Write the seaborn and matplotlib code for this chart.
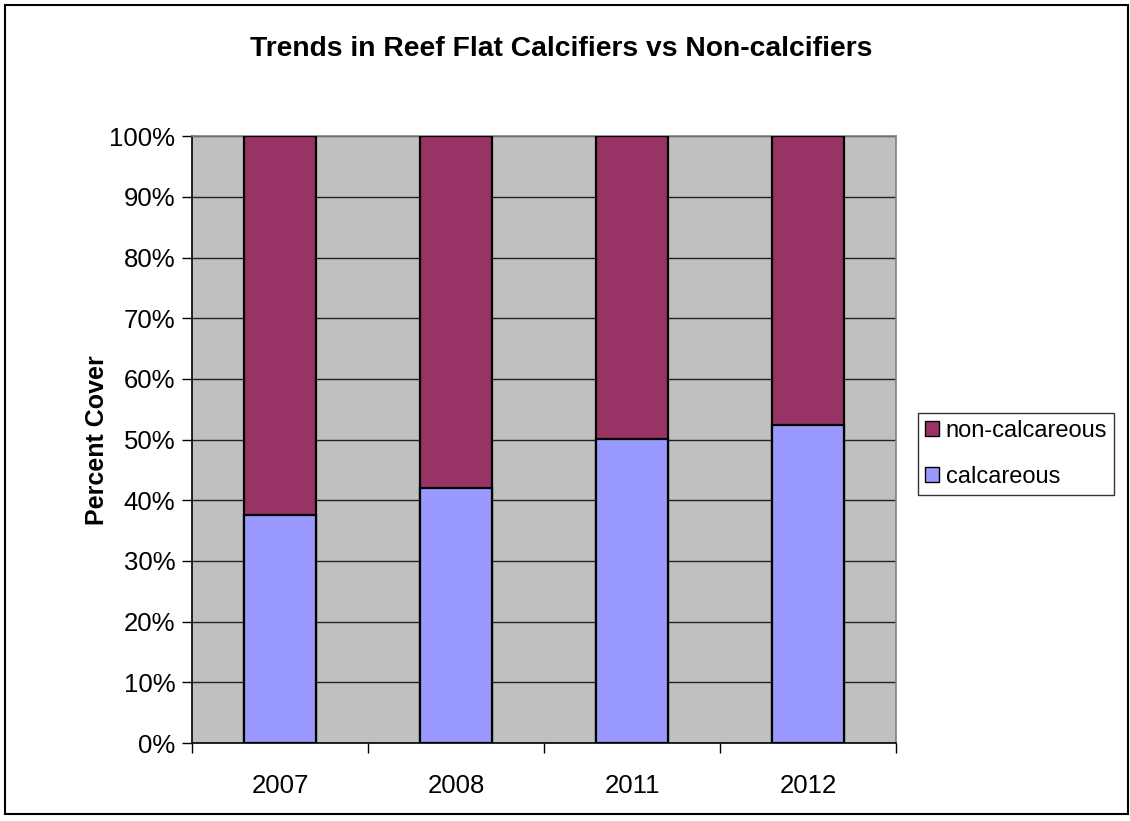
import matplotlib
matplotlib.use("Agg")
import matplotlib.pyplot as plt
from matplotlib.patches import Rectangle, Patch
from matplotlib.ticker import PercentFormatter, FixedLocator
import seaborn as sns
import pandas as pd

years = ["2007", "2008", "2011", "2012"]
calcareous = [37.5, 42.0, 50.1, 52.4]
non_calcareous = [100 - v for v in calcareous]

PURPLE = "#993366"
BLUE = "#9999FF"
GREY = "#C0C0C0"

sns.set_theme(style="white")
plt.rcParams["font.family"] = ["Liberation Sans", "DejaVu Sans"]
plt.rcParams.update({"text.color": "black", "axes.labelcolor": "black",
                     "xtick.color": "black", "ytick.color": "black"})

df = pd.DataFrame({"year": years, "calc": calcareous,
                   "total": [c + n for c, n in zip(calcareous, non_calcareous)]})

fig = plt.figure(figsize=(11.3, 8.21), dpi=100)
ax = fig.add_axes([0.170, 0.095, 0.623, 0.739])
ax.set_facecolor(GREY)

sns.barplot(data=df, x="year", y="total", order=years, color=PURPLE, width=0.41,
            edgecolor="black", linewidth=1.6, saturation=1, ax=ax, zorder=3)
sns.barplot(data=df, x="year", y="calc", order=years, color=BLUE, width=0.41,
            edgecolor="black", linewidth=1.6, saturation=1, ax=ax, zorder=4)

ax.set_xlim(-0.5, 3.5)
ax.set_ylim(0, 100)
ax.set_yticks(range(0, 101, 10))
ax.yaxis.set_major_formatter(PercentFormatter(decimals=0))
ax.yaxis.grid(True, color="#222222", linewidth=1.0, zorder=1)
ax.set_axisbelow(True)
ax.xaxis.set_minor_locator(FixedLocator([-0.5, 0.5, 1.5, 2.5, 3.5]))
ax.tick_params(axis="x", which="major", length=0, labelsize=18.5, pad=22)
ax.tick_params(axis="x", which="minor", length=7, width=1, color="black",
               direction="out", bottom=True)
ax.tick_params(axis="y", length=7, width=1, color="black", direction="out",
               left=True, labelsize=18.5, pad=5)
for s in ["left", "bottom"]:
    ax.spines[s].set_color("black")
    ax.spines[s].set_linewidth(1.2)
for s in ["top", "right"]:
    ax.spines[s].set_color("#808080")
    ax.spines[s].set_linewidth(1.2)

ax.set_xlabel("")
ax.set_ylabel("Percent Cover", fontsize=18, fontweight="bold")
ax.yaxis.set_label_coords(-0.118, 0.5)
fig.text(0.497, 0.940, "Trends in Reef Flat Calcifiers vs Non-calcifiers",
         ha="center", va="center", fontsize=20.3, fontweight="bold")

handles = [Patch(facecolor=PURPLE, edgecolor="black", label="non-calcareous"),
           Patch(facecolor=BLUE, edgecolor="black", label="calcareous")]
leg = fig.legend(handles=handles, loc="center left", bbox_to_anchor=(0.812, 0.447),
                 fontsize=17, frameon=True, fancybox=False, edgecolor="black",
                 handlelength=0.6, handleheight=0.6, handletextpad=0.3,
                 labelspacing=1.0, borderpad=0.3, borderaxespad=0)
leg.get_frame().set_linewidth(1.0)

fig.patches.append(Rectangle((0.004, 0.008), 0.994, 0.986, transform=fig.transFigure,
                             fill=False, edgecolor="black", linewidth=1.5))

fig.savefig("out.png", dpi=100)
